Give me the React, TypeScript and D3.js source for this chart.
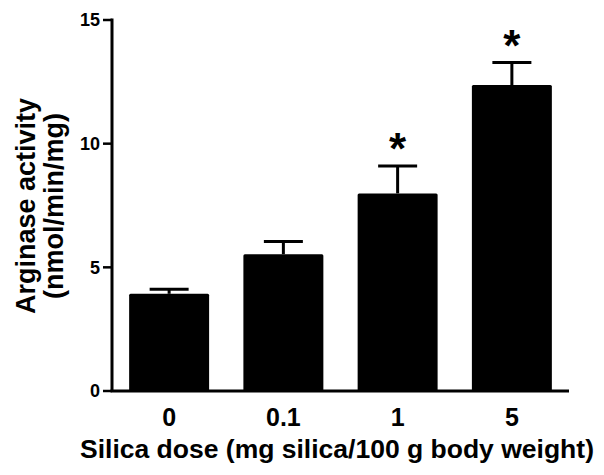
import React from "react";
import * as d3 from "d3";

const categories = ["0", "0.1", "1", "5"];
const means = [3.93, 5.53, 7.99, 12.37];
const sems = [0.18, 0.51, 1.11, 0.91];
const significant = [false, false, true, true];
const yTicks = [0, 5, 10, 15];
const yTitleLines = ["Arginase activity", "(nmol/min/mg)"];
const xTitle = "Silica dose (mg silica/100 g body weight)";

const W = 604;
const H = 475;
const FONT = "'Liberation Sans', Arial, Helvetica, sans-serif";

export default function App() {
  const x = d3
    .scaleBand<string>()
    .domain(categories)
    .range([112, 569])
    .paddingInner(0.3)
    .paddingOuter(0.15);
  const y = d3.scaleLinear().domain([0, 15]).range([391, 20]);
  const bw = x.bandwidth();
  const capW = 39;

  return (
    <svg
      width={W}
      height={H}
      style={{ position: "absolute", left: 0, top: 0, display: "block", background: "#fff" }}
      fontFamily={FONT}
    >
      {/* bars */}
      {categories.map((c, i) => {
        const x0 = x(c)!;
        const cx = x0 + bw / 2;
        const top = y(means[i]);
        const errTop = y(means[i] + sems[i]);
        return (
          <g key={c}>
            <line x1={cx} x2={cx} y1={top} y2={errTop} stroke="#000" strokeWidth={3} />
            <line
              x1={cx - capW / 2}
              x2={cx + capW / 2}
              y1={errTop}
              y2={errTop}
              stroke="#000"
              strokeWidth={3}
            />
            <rect x={x0} y={top} width={bw} height={y(0) - top} fill="#000" rx={1.5} />
            {significant[i] && (
              <text
                x={cx}
                y={errTop - 25 + 23}
                textAnchor="middle"
                fontSize={44}
                fontWeight="bold"
                fill="#000"
              >
                *
              </text>
            )}
          </g>
        );
      })}

      {/* y axis */}
      <line x1={112} x2={112} y1={y(15) - 1.5} y2={y(0)} stroke="#000" strokeWidth={3} />
      {yTicks.map((t) => (
        <g key={t}>
          <line x1={103} x2={112} y1={y(t)} y2={y(t)} stroke="#000" strokeWidth={2.5} />
          <text
            x={100}
            y={y(t)}
            dy="0.36em"
            textAnchor="end"
            fontSize={18}
            fontWeight="bold"
            fill="#000"
          >
            {t}
          </text>
        </g>
      ))}

      {/* x axis */}
      <line x1={110.5} x2={569} y1={y(0)} y2={y(0)} stroke="#000" strokeWidth={3} />
      {categories.map((c) => (
        <text
          key={c}
          x={x(c)! + bw / 2}
          y={426}
          textAnchor="middle"
          fontSize={25}
          fontWeight="bold"
          fill="#000"
        >
          {c}
        </text>
      ))}

      {/* x title */}
      <text x={337} y={458} textAnchor="middle" fontSize={26.5} fontWeight="bold" fill="#000">
        {xTitle}
      </text>

      {/* y title */}
      <g transform="translate(0,206) rotate(-90)">
        {yTitleLines.map((l, i) => (
          <text
            key={l}
            x={0}
            y={35 + i * 28}
            textAnchor="middle"
            fontSize={27}
            fontWeight="bold"
            fill="#000"
          >
            {l}
          </text>
        ))}
      </g>
    </svg>
  );
}
